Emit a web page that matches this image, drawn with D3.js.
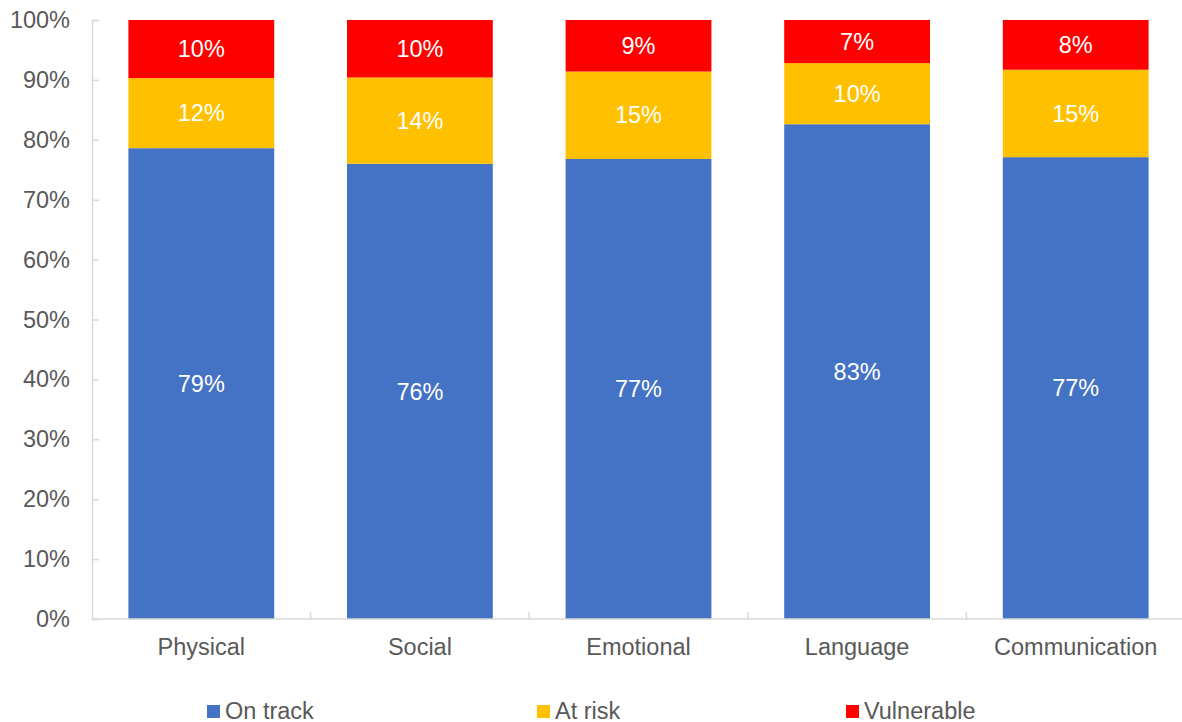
<!DOCTYPE html>
<html>
<head>
<meta charset="utf-8">
<script src="https://cdn.jsdelivr.net/npm/d3@7"></script>
<style>
  html, body { margin: 0; padding: 0; background: #fff; }
  svg { display: block; font-family: "Liberation Sans", Arial, sans-serif; }
</style>
</head>
<body>
<svg id="chart" width="1182" height="722"></svg>
<script>
// Domains and their share of children in each group (percent)
const categories = ["Physical", "Social", "Emotional", "Language", "Communication"];
const onTrack    = [78.6, 76.0, 76.8, 82.6, 77.1];
const atRisk     = [11.7, 14.4, 14.6, 10.2, 14.6];
const vulnerable = [9.7, 9.6, 8.6, 7.2, 8.3];
const seriesNames = ["On track", "At risk", "Vulnerable"];
const seriesColors = ["#4472C4", "#FFC000", "#FF0000"];
const yTicks = [0, 10, 20, 30, 40, 50, 60, 70, 80, 90, 100];

const FONT_SIZE = 23.5;

const rows = categories.map((c, i) => ({
  category: c,
  "On track": onTrack[i],
  "At risk": atRisk[i],
  "Vulnerable": vulnerable[i]
}));

const svg = d3.select("#chart");
const margin = { left: 92, top: 20, right: -3, bottom: 103 };
const W = 1182, H = 722;
const plotW = W - margin.left - margin.right;
const plotH = H - margin.top - margin.bottom;

const x = d3.scaleBand()
  .domain(categories)
  .range([margin.left, margin.left + plotW])
  .paddingInner(0.333)
  .paddingOuter(0.1665);

const y = d3.scaleLinear().domain([0, 100]).range([margin.top + plotH, margin.top]);
const color = d3.scaleOrdinal().domain(seriesNames).range(seriesColors);

const stack = d3.stack().keys(seriesNames);
const layers = stack(rows);

// Bars
const g = svg.append("g");
layers.forEach(layer => {
  g.selectAll(null)
    .data(layer)
    .join("rect")
    .attr("x", d => x(d.data.category))
    .attr("width", x.bandwidth())
    .attr("y", d => y(d[1]))
    .attr("height", d => y(d[0]) - y(d[1]))
    .attr("fill", color(layer.key));
});

// Segment value labels
const fmt = v => Math.round(v) + "%";
layers.forEach(layer => {
  g.selectAll(null)
    .data(layer)
    .join("text")
    .attr("x", d => x(d.data.category) + x.bandwidth() / 2)
    .attr("y", d => (y(d[0]) + y(d[1])) / 2)
    .attr("dy", "0.35em")
    .attr("text-anchor", "middle")
    .attr("fill", "#fff")
    .attr("font-size", FONT_SIZE)
    .text(d => fmt(d[1] - d[0]));
});

// Y axis
const yAxis = d3.axisLeft(y)
  .tickValues(yTicks)
  .tickSize(-7)
  .tickPadding(22)
  .tickFormat(d => d + "%");
const ya = svg.append("g")
  .attr("transform", `translate(${margin.left},0)`)
  .call(yAxis);
ya.select(".domain").attr("stroke", "#d9d9d9").attr("stroke-width", 1.5);
ya.selectAll(".tick line").attr("stroke", "#d9d9d9").attr("stroke-width", 1.5);
ya.selectAll(".tick text")
  .attr("fill", "#595959")
  .attr("font-size", FONT_SIZE)
  .attr("font-family", "Liberation Sans, Arial, sans-serif");

// X axis baseline with ticks between categories
const baseY = y(0);
svg.append("line")
  .attr("x1", margin.left).attr("x2", margin.left + plotW)
  .attr("y1", baseY).attr("y2", baseY)
  .attr("stroke", "#d9d9d9").attr("stroke-width", 1.5);
const step = x.step();
const boundaries = categories.slice(1).map(c => x(c) - step * x.paddingInner() / 2);
svg.selectAll(null)
  .data(boundaries)
  .join("line")
  .attr("x1", d => d).attr("x2", d => d)
  .attr("y1", baseY).attr("y2", baseY - 7)
  .attr("stroke", "#d9d9d9").attr("stroke-width", 1.5);

svg.selectAll(null)
  .data(categories)
  .join("text")
  .attr("x", d => x(d) + x.bandwidth() / 2)
  .attr("y", baseY + 36)
  .attr("text-anchor", "middle")
  .attr("fill", "#595959")
  .attr("font-size", FONT_SIZE)
  .text(d => d);

// Legend
const legendX = [207, 537, 846];
const legend = svg.selectAll(null)
  .data(seriesNames)
  .join("g")
  .attr("transform", (d, i) => `translate(${legendX[i]},705)`);
legend.append("rect")
  .attr("width", 13).attr("height", 13)
  .attr("fill", d => color(d));
legend.append("text")
  .attr("x", 18)
  .attr("y", 13.5)
  .attr("fill", "#595959")
  .attr("font-size", FONT_SIZE)
  .text(d => d);
</script>
</body>
</html>
